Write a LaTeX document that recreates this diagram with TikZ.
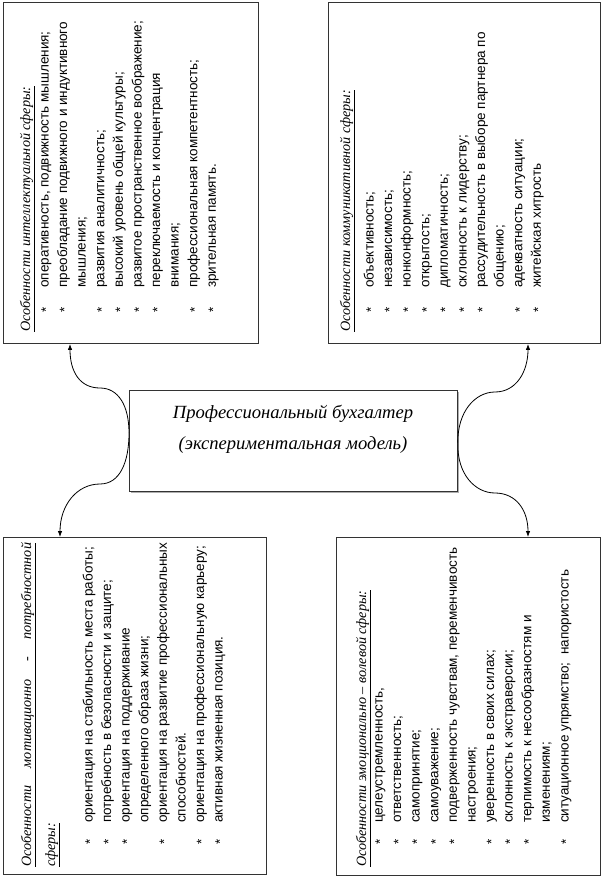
\documentclass[tikz,border=0pt]{standalone}
\usepackage{fontspec}
\setmainfont{Liberation Serif}
\setsansfont{Liberation Sans}
\usetikzlibrary{arrows.meta,calc,shadows}
\newcommand\bulT{\llap{\raisebox{-2pt}{*}\hspace{19.4pt}}}
\newcommand\bulB{\llap{\raisebox{-2pt}{*}\hspace{16.4pt}}}
\tikzset{
  box/.style={draw=black!80, line width=0.9pt, inner sep=0pt, anchor=north west, fill=white,
    drop shadow={shadow xshift=1pt, shadow yshift=-1pt, fill=black!35, opacity=0.6}},
  item/.style={rotate=90, anchor=base west, inner sep=0pt, font=\sffamily\fontsize{13.5}{16}\selectfont},
  head/.style={rotate=90, anchor=base west, inner sep=0pt, font=\itshape\fontsize{14.2}{17}\selectfont},
  ctitle/.style={anchor=base, inner sep=0pt, font=\itshape\fontsize{18.6}{22}\selectfont},
  link/.style={line width=0.8pt, -{Latex[length=6pt,width=4.5pt]}},
}
\begin{document}
\begin{tikzpicture}[x=1pt,y=-1pt]
\useasboundingbox[fill=white] (0,0) rectangle (604,877);
% boxes
\node[box, minimum width=255pt, minimum height=341pt] (tl) at (3,2) {};
\node[box, minimum width=272pt, minimum height=341pt] (tr) at (328,2) {};
\node[box, minimum width=263pt, minimum height=337pt] (bl) at (3,537) {};
\node[box, minimum width=264pt, minimum height=338pt] (br) at (336,537) {};
\node[box, minimum width=328pt, minimum height=101pt,
  drop shadow={shadow xshift=1.5pt, shadow yshift=-1.5pt, fill=black!45, opacity=0.7}] (center) at (129,390) {};
\node[ctitle] (ct1) at (293,418) {Профессиональный бухгалтер};
\node[ctitle] (ct2) at (293,449) {(экспериментальная модель)};
% top-left
\node[head] (tlh) at (30,332) {\underline{Особенности интеллектуальной сферы:}};
\node[item] (tl1) at (48.5,288) {\bulT оперативность, подвижность мышления;};
\node[item] (tl2) at (67.1,288) {\bulT преобладание подвижного и индуктивного};
\node[item] (tl3) at (85.7,288) {мышления;};
\node[item] (tl4) at (104.3,288) {\bulT развития аналитичность;};
\node[item] (tl5) at (122.9,288) {\bulT высокий уровень общей культуры;};
\node[item] (tl6) at (141.5,288) {\bulT развитое пространственное воображение;};
\node[item] (tl7) at (160.1,288) {\bulT переключаемость и концентрация};
\node[item] (tl8) at (178.7,288) {внимания;};
\node[item] (tl9) at (197.3,288) {\bulT профессиональная компетентность;};
\node[item] (tl10) at (215.9,288) {\bulT зрительная память.};
% top-right
\node[head] (trh) at (350,332) {\underline{Особенности коммуникативной сферы:}};
\node[item] (tr1) at (373.5,288) {\bulT объективность;};
\node[item] (tr2) at (392.1,288) {\bulT независимость;};
\node[item] (tr3) at (410.7,288) {\bulT нонконформность;};
\node[item] (tr4) at (429.3,288) {\bulT открытость;};
\node[item] (tr5) at (447.9,288) {\bulT дипломатичность;};
\node[item] (tr6) at (466.5,288) {\bulT склонность к лидерству;};
\node[item] (tr7) at (485.1,288) {\bulT рассудительность в выборе партнера по};
\node[item] (tr8) at (503.7,288) {общению;};
\node[item] (tr9) at (522.3,288) {\bulT адекватность ситуации;};
\node[item] (tr10) at (540.9,288) {\bulT житейская хитрость};
% bottom-left
\node[head] (blh1) at (31,867) {\underline{\makebox[324pt][s]{Особенности мотивационно - потребностной}}};
\node[head] (blh2) at (55,867) {\underline{сферы:}};
\node[item] (bl1) at (92.5,823) {\bulB ориентация на стабильность места работы;};
\node[item] (bl2) at (111.1,823) {\bulB потребность в безопасности и защите;};
\node[item] (bl3) at (129.7,823) {\bulB ориентация на поддерживание};
\node[item] (bl4) at (148.3,823) {определенного образа жизни;};
\node[item] (bl5) at (166.9,823) {\bulB ориентация на развитие профессиональных};
\node[item] (bl6) at (185.5,823) {способностей.};
\node[item] (bl7) at (204.1,823) {\bulB ориентация на профессиональную карьеру;};
\node[item] (bl8) at (222.7,823) {\bulB активная жизненная позиция.};
% bottom-right
\node[head] (brh) at (366,867) {\underline{Особенности эмоционально – волевой сферы:}};
\node[item] (br1) at (382.5,823) {\bulB целеустремленность,};
\node[item] (br2) at (401.1,823) {\bulB ответственность;};
\node[item] (br3) at (419.7,823) {\bulB самопринятие;};
\node[item] (br4) at (438.3,823) {\bulB самоуважение;};
\node[item] (br5) at (456.9,823) {\bulB подверженность чувствам, переменчивость};
\node[item] (br6) at (475.5,823) {настроения;};
\node[item] (br7) at (494.1,823) {\bulB уверенность в своих силах;};
\node[item] (br8) at (512.7,823) {\bulB склонность к экстраверсии;};
\node[item] (br9) at (531.3,823) {\bulB терпимость к несообразностям и};
\node[item] (br10) at (549.9,823) {изменениям;};
\node[item] (br11) at (568.5,823) {\bulB ситуационное упрямство;\ \ напористость};
% connectors
\draw[link] ($(center.west)+(0,-8)$) .. controls (129,405) and (118,388) .. (100,388)
  .. controls (80,388) and (70,372) .. ($(tl.south west)+(67,0)$);
\draw[link] ($(center.west)+(0,-8)$) .. controls (129,462) and (120,484) .. (100,484)
  .. controls (77,484) and (60,505) .. ($(bl.north west)+(57,0)$);
\draw[link] ($(center.east)+(0,2.5)$) .. controls (457,412) and (475,392) .. (495,392)
  .. controls (516,392) and (528,372) .. ($(tr.south west)+(200,0)$);
\draw[link] ($(center.east)+(0,2.5)$) .. controls (457,474) and (475,493) .. (495,493)
  .. controls (516,493) and (528,510) .. ($(br.north west)+(192,0)$);
\end{tikzpicture}
\end{document}
